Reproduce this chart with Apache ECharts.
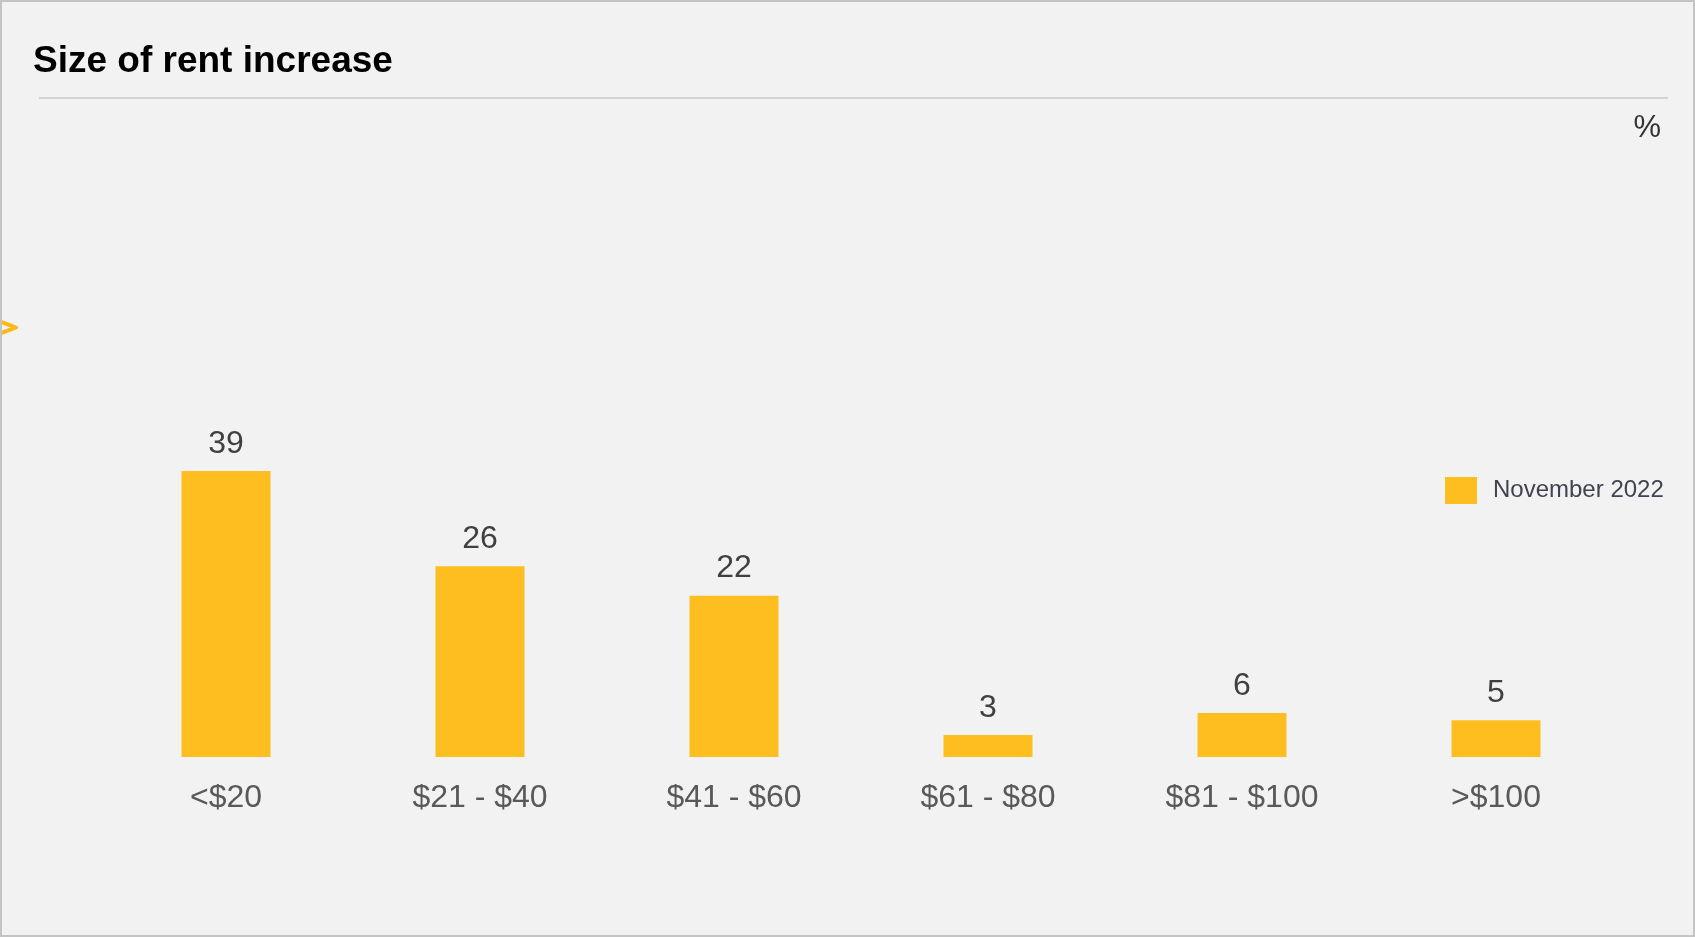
<!DOCTYPE html>
<html>
<head>
<meta charset="utf-8">
<title>Size of rent increase</title>
<script src="https://cdn.jsdelivr.net/npm/echarts@6/dist/echarts.min.js"></script>
<style>
  html, body { margin: 0; padding: 0; background: #f2f2f2; }
  #chart { width: 1695px; height: 937px; }
</style>
</head>
<body>
<div id="chart"></div>
<script>
// Rent increase bands and share of renters (%)
const categories = ['<$20', '$21 - $40', '$41 - $60', '$61 - $80', '$81 - $100', '>$100'];
const seriesName = 'November 2022';
const values = [39, 26, 22, 3, 6, 5];

const FONT = '"Liberation Sans", Arial, Helvetica, sans-serif';
const BAR_COLOR = '#FFBE1F';

const chart = echarts.init(document.getElementById('chart'), null, { renderer: 'canvas' });

chart.setOption({
  backgroundColor: '#f2f2f2',
  animation: false,
  title: {
    text: 'Size of rent increase',
    left: 33,
    top: 43,
    padding: 0,
    textStyle: { fontFamily: FONT, fontSize: 37, fontWeight: 'bold', color: '#000000' }
  },
  legend: {
    data: [seriesName],
    left: 1445,
    top: 477,
    padding: 0,
    itemWidth: 32,
    itemHeight: 27,
    icon: 'rect',
    textStyle: { fontFamily: FONT, fontSize: 24, color: '#41434f', padding: [0, 0, 0, 11] }
  },
  grid: { left: 99, right: 72, top: 317, bottom: 180, containLabel: false },
  xAxis: {
    type: 'category',
    data: categories,
    axisLine: { show: false },
    axisTick: { show: false },
    axisLabel: { margin: 25, fontFamily: FONT, fontSize: 32, color: '#595959' }
  },
  yAxis: {
    type: 'value',
    min: 0,
    max: 60,
    show: false,
    splitLine: { show: false }
  },
  series: [{
    name: seriesName,
    type: 'bar',
    data: values,
    barWidth: 89,
    itemStyle: { color: BAR_COLOR },
    label: {
      show: true,
      position: 'top',
      distance: 11,
      fontFamily: FONT,
      fontSize: 32,
      color: '#404040'
    }
  }],
  graphic: [
    // divider under the heading
    {
      type: 'line',
      shape: { x1: 39, y1: 98, x2: 1668, y2: 98 },
      style: { stroke: '#c8c8c8', lineWidth: 1.5 }
    },
    // unit marker
    {
      type: 'text',
      x: 1661,
      y: 128,
      style: { text: '%', fontFamily: FONT, fontSize: 31, fill: '#333333', align: 'right', verticalAlign: 'middle' }
    },
    // chevron at the left edge
    {
      type: 'polyline',
      shape: { points: [[-4, 320], [16, 327.5], [-4, 335]] },
      style: { stroke: '#FFB81C', lineWidth: 4, fill: null, lineJoin: 'round', lineCap: 'round' }
    },
    // panel frame
    {
      type: 'rect',
      shape: { x: 1, y: 1, width: 1693, height: 935 },
      style: { stroke: '#c4c4c4', lineWidth: 2, fill: null }
    }
  ]
});
</script>
</body>
</html>
